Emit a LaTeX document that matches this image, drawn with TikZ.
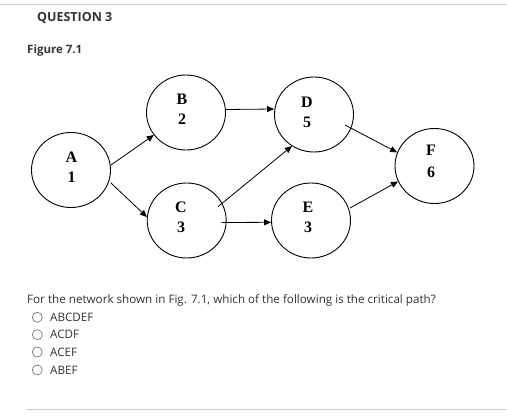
\documentclass[tikz,border=0pt]{standalone}
\usepackage{fontspec}
\setmainfont{Open Sans}
\newfontfamily\nodefont{Liberation Serif}
\usetikzlibrary{arrows.meta}
\definecolor{txt}{HTML}{333333}
\definecolor{rule}{HTML}{CCCCCC}
\definecolor{radio}{HTML}{777777}
\tikzset{
  evt/.style={draw=black, line width=0.9pt, ellipse, minimum width=79pt, minimum height=75pt, inner sep=0pt},
  lbl/.style={font=\nodefont\bfseries\fontsize{16}{16}\selectfont, inner sep=0pt, anchor=center},
  con/.style={draw=black, line width=0.8pt, -{Triangle[length=7pt,width=6pt]}},
  qtext/.style={font=\fontsize{11.65}{13}\selectfont, text=txt, inner sep=0pt, anchor=west},
  rbtn/.style={draw=radio, line width=0.7pt, circle, minimum size=10pt, inner sep=0pt},
}
\usetikzlibrary{shapes.geometric}
\begin{document}
\begin{tikzpicture}[x=1pt,y=-1pt]
\useasboundingbox[fill=white] (0,0) rectangle (507,417);
\draw[rule, line width=1pt] (0,5) -- (507,5);
\draw[rule, line width=1pt] (27,410) -- (507,410);
\node[anchor=west, inner sep=0pt, font=\bfseries\fontsize{12.5}{14}\selectfont, text=txt] (q3) at (37,18.5) {QUESTION 3};
\node[anchor=west, inner sep=0pt, font=\bfseries\fontsize{11.5}{14}\selectfont, text=txt] (fig) at (27,50.5) {Figure 7.1};

\node[evt] (A) at (71,170) {};
\node[evt] (B) at (186,112.5) {};
\node[evt] (D) at (314,114.5) {};
\node[evt] (F) at (434.5,166) {};
\node[evt] (C) at (186.7,220.5) {};
\node[evt] (E) at (311,220.5) {};

\node[lbl] (Al) at (71.5,157) {A};
\node[lbl] (An) at (71.5,177) {1};
\node[lbl] (Bl) at (182,99) {B};
\node[lbl] (Bn) at (182,119) {2};
\node[lbl] (Dl) at (307,102) {D};
\node[lbl] (Dn) at (307,122) {5};
\node[lbl] (Fl) at (431,150) {F};
\node[lbl] (Fn) at (431,172) {6};
\node[lbl] (Cl) at (181,207.5) {C};
\node[lbl] (Cn) at (181,227.5) {3};
\node[lbl] (El) at (308,207.5) {E};
\node[lbl] (En) at (308,227.5) {3};

\draw[con] (A.east) ++(0,-5) -- (B.215);
\draw[con] (A.east) ++(0,13) -- (C.175);
\draw[con] (B.east) ++(0,-3) -- (D.west |- 109,109);
\draw[con] (C.center) ++(31.5,-14) -- (D.235);
\draw[con] (C.center) ++(35,2) -- (E.west |- 222.3,222.3);
\draw[con] (D.center) ++(31,10.5) -- (F.160);
\draw[con] (E.center) ++(39,-12.5) -- (F.203);

\node[qtext] (q) at (27,300.7) {For the network shown in Fig. 7.1, which of the following is the critical path?};
\node[rbtn] (r1) at (37.3,317.3) {};
\node[rbtn] (r2) at (37.3,334.7) {};
\node[rbtn] (r3) at (37.3,352) {};
\node[rbtn] (r4) at (37.3,370) {};
\node[qtext] (o1) at (50,317.3) {ABCDEF};
\node[qtext] (o2) at (50,334.7) {ACDF};
\node[qtext] (o3) at (50,352) {ACEF};
\node[qtext] (o4) at (50,370) {ABEF};
\end{tikzpicture}
\end{document}
